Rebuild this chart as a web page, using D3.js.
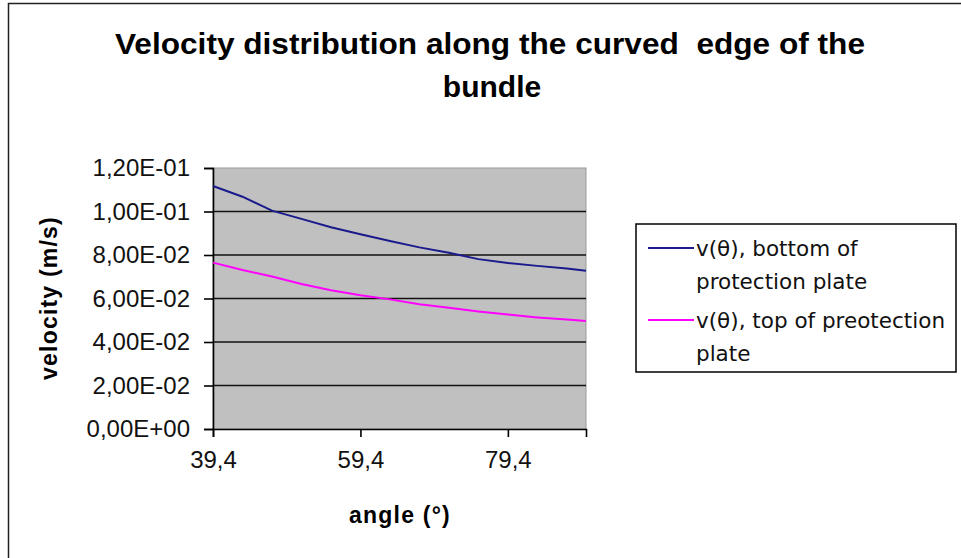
<!DOCTYPE html>
<html>
<head>
<meta charset="utf-8">
<script src="https://cdn.jsdelivr.net/npm/d3@7"></script>
<style>
  html, body { margin: 0; padding: 0; background: #fff; }
  svg { display: block; }
</style>
</head>
<body>
<svg id="chart" width="961" height="558"></svg>
<script>
// ---- data ----
const angles = [39.4, 43.4, 47.4, 51.4, 55.4, 59.4, 63.4, 67.4, 71.4, 75.4, 79.4, 83.4, 87.4, 90.0];
const vBottom = [0.1117, 0.1068, 0.1004, 0.0966, 0.0928, 0.0895, 0.0864, 0.0835, 0.0810, 0.0781, 0.0763, 0.0750, 0.0738, 0.0728];
const vTop = [0.0765, 0.0731, 0.0701, 0.0667, 0.0638, 0.0615, 0.0596, 0.0574, 0.0557, 0.0540, 0.0526, 0.0513, 0.0503, 0.0497];
const xTicks = [39.4, 59.4, 79.4];
const yTicks = [0, 0.02, 0.04, 0.06, 0.08, 0.10, 0.12];
const yTickLabels = ["0,00E+00", "2,00E-02", "4,00E-02", "6,00E-02", "8,00E-02", "1,00E-01", "1,20E-01"];
const seriesNames = ["v(θ), bottom of|protection plate", "v(θ), top of preotection|plate"];
const seriesColors = ["#1a1a8c", "#ff00ff"];
const titleLines = ["Velocity distribution along the curved  edge of the", "bundle"];

const svg = d3.select("#chart");
const m = { left: 213, right: 586, top: 168, bottom: 429 };

const x = d3.scaleLinear().domain([39.4, 90.0]).range([m.left, m.right]);
const y = d3.scaleLinear().domain([0, 0.12]).range([m.bottom, m.top]);

// outer border
svg.append("rect").attr("x", 8.5).attr("y", 3.5).attr("width", 1000).attr("height", 1000)
  .attr("fill", "#fff").attr("stroke", "#222").attr("stroke-width", 1.5);

// title
const tt = svg.append("text").attr("text-anchor", "middle")
  .style("font-family", "'Liberation Sans', Arial, sans-serif").style("font-weight", "bold")
  .style("font-size", "30px").attr("fill", "#000").attr("xml:space", "preserve");
tt.append("tspan").attr("x", 490).attr("y", 54).attr("textLength", 750).attr("lengthAdjust", "spacingAndGlyphs")
  .text(titleLines[0]);
tt.append("tspan").attr("x", 492).attr("y", 97).text(titleLines[1]);

// plot area
svg.append("rect").attr("x", m.left).attr("y", m.top)
  .attr("width", m.right - m.left).attr("height", m.bottom - m.top)
  .attr("fill", "#c0c0c0").attr("stroke", "#9a9a9a").attr("stroke-width", 1);

// gridlines
svg.append("g").selectAll("line").data(yTicks.filter(d => d > 0 && d < 0.12)).join("line")
  .attr("x1", m.left).attr("x2", m.right)
  .attr("y1", d => y(d)).attr("y2", d => y(d))
  .attr("stroke", "#111").attr("stroke-width", 1.6);

// y axis
const yAxis = d3.axisLeft(y).tickValues(yTicks).tickSize(9).tickPadding(14)
  .tickFormat((d, i) => yTickLabels[i]);
const gy = svg.append("g").attr("transform", `translate(${m.left},0)`).call(yAxis);
gy.select(".domain").attr("stroke", "#000").attr("stroke-width", 1.6);
gy.selectAll(".tick line").attr("stroke", "#000").attr("stroke-width", 1.6);
gy.selectAll(".tick text").style("font-family", "'Liberation Sans', Arial, sans-serif")
  .style("font-size", "24px").attr("fill", "#111");

// x axis
const xAxis = d3.axisBottom(x).tickValues(xTicks).tickSize(8).tickPadding(14)
  .tickFormat(d => d3.format(".1f")(d).replace(".", ","));
const gx = svg.append("g").attr("transform", `translate(0,${m.bottom})`).call(xAxis);
gx.select(".domain").attr("stroke", "#000").attr("stroke-width", 1.6);
gx.selectAll(".tick line").attr("stroke", "#000").attr("stroke-width", 1.6);
gx.selectAll(".tick text").style("font-family", "'Liberation Sans', Arial, sans-serif")
  .style("font-size", "24px").attr("fill", "#111");

// axis titles
svg.append("text").attr("x", 400).attr("y", 523).attr("text-anchor", "middle")
  .style("font-family", "'Liberation Sans', Arial, sans-serif").style("font-weight", "bold")
  .style("font-size", "23px").style("letter-spacing", "1.2px").text("angle (°)");
svg.append("text").attr("transform", "translate(57,298) rotate(-90)").attr("text-anchor", "middle")
  .style("font-family", "'Liberation Sans', Arial, sans-serif").style("font-weight", "bold")
  .style("font-size", "23px").style("letter-spacing", "1.2px").text("velocity (m/s)");

// lines
const line = d3.line().x((d, i) => x(angles[i])).y(d => y(d));
[vBottom, vTop].forEach((s, k) => {
  svg.append("path").datum(s).attr("d", line).attr("fill", "none")
    .attr("stroke", seriesColors[k]).attr("stroke-width", 2);
});

// legend
const lg = svg.append("g");
lg.append("rect").attr("x", 636).attr("y", 224).attr("width", 320).attr("height", 148)
  .attr("fill", "#fff").attr("stroke", "#000").attr("stroke-width", 1.5);
const rowY = [248, 320];
seriesNames.forEach((nm, k) => {
  lg.append("line").attr("x1", 648).attr("x2", 694).attr("y1", rowY[k]).attr("y2", rowY[k])
    .attr("stroke", seriesColors[k]).attr("stroke-width", 2);
  const t = lg.append("text").attr("x", 696).attr("y", rowY[k] + 8)
    .style("font-family", "'DejaVu Sans', sans-serif").style("font-size", "21.5px").attr("fill", "#111");
  nm.split("|").forEach((part, j) => {
    t.append("tspan").attr("x", 696).attr("dy", j === 0 ? 0 : 33).text(part);
  });
});
</script>
</body>
</html>
